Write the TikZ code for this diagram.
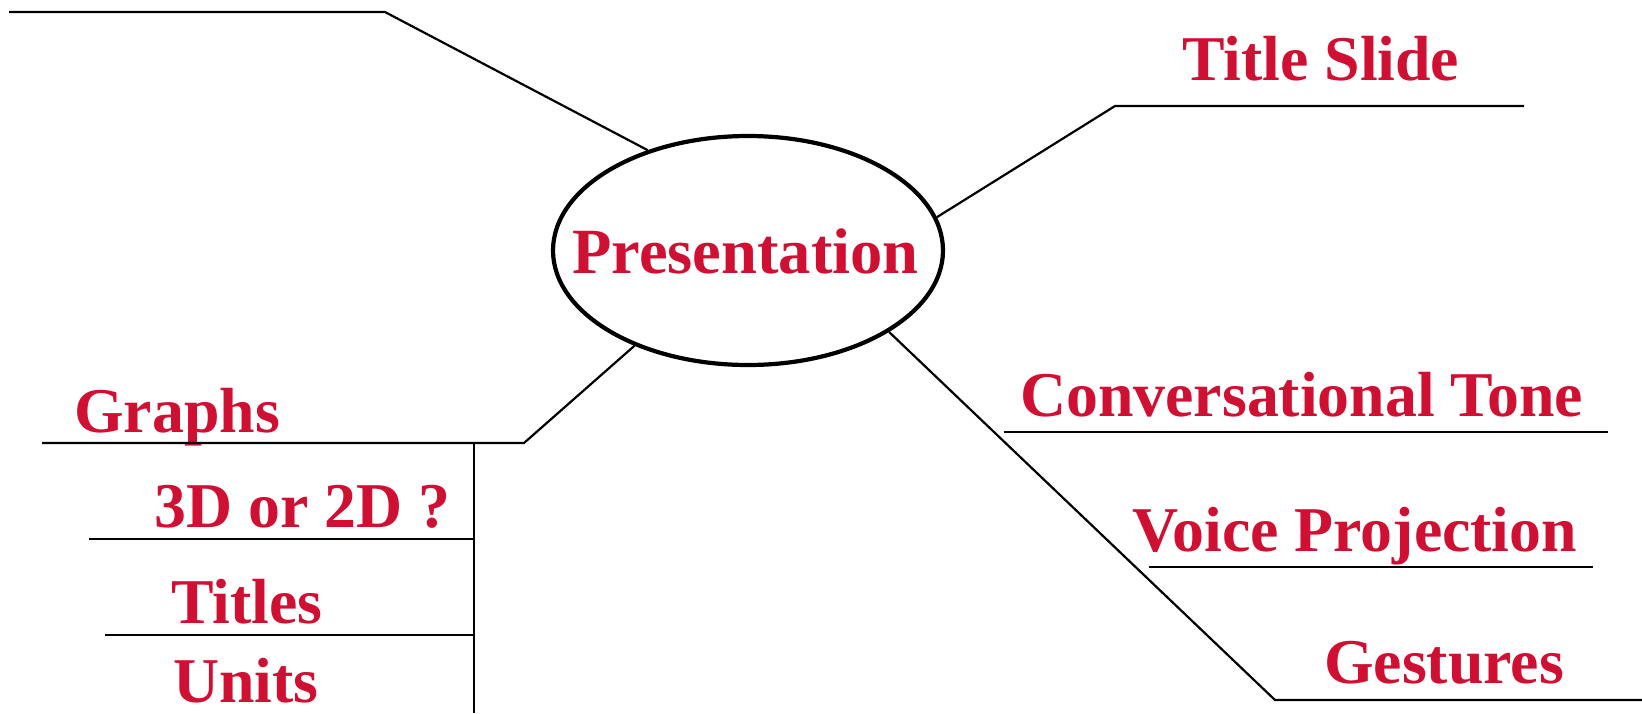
\documentclass[tikz,border=0pt]{standalone}
\usepackage{fontspec}
\setmainfont{Liberation Serif}
\usetikzlibrary{shapes.geometric}
\definecolor{myred}{RGB}{208,16,50}
\tikzset{
  lbl/.style={text=myred, font=\bfseries\fontsize{63.8}{70}\selectfont, inner sep=0pt, anchor=base west},
  ln/.style={draw=black, line width=2.2pt},
  oval/.style={draw=black, ellipse, line width=4.2pt, minimum width=390pt, minimum height=229pt, inner sep=0pt}
}
\begin{document}
\begin{tikzpicture}[x=1pt,y=-1pt]
\useasboundingbox (0,0) rectangle (1642,713);
\node[oval] (pres) at (748,250.5) {};
\node[lbl, font=\bfseries\fontsize{64.5}{70}\selectfont] (ptext) at (572,273) {Presentation};
\node[lbl] (tslide) at (1182,80) {Title Slide};
\node[lbl] (ctone) at (1020,416) {Conversational Tone};
\node[lbl] (vproj) at (1132,551) {Voice Projection};
\node[lbl] (gest) at (1324,683) {Gestures};
\node[lbl] (graphs) at (74,432) {Graphs};
\node[lbl] (tdd) at (154,527) {3D or 2D ?};
\node[lbl] (titles) at (171,623) {Titles};
\node[lbl] (units) at (173,702) {Units};
\coordinate (c0) at (9,12);
\coordinate (c1) at (385,12);
\coordinate (c2) at (1115,106);
\coordinate (c3) at (1524,106);
\coordinate (c4) at (1275,700);
\coordinate (c5) at (1642,700);
\coordinate (c6) at (524,443);
\coordinate (c7) at (42,443);
\coordinate (c8) at (474,443);
\coordinate (c9) at (474,713);
\coordinate (c10) at (89,539);
\coordinate (c11) at (474,539);
\coordinate (c12) at (105,635);
\coordinate (c13) at (474,635);
\coordinate (c14) at (1004,432);
\coordinate (c15) at (1608,432);
\coordinate (c16) at (1149,567);
\coordinate (c17) at (1593,567);
\draw[ln] (pres.135.9) -- (c1) -- (c0);
\draw[ln] (pres.10.8) -- (c2) -- (c3);
\draw[ln] (pres.330.9) -- (c4) -- (c5);
\draw[ln] (pres.220.1) -- (c6) -- (c7);
\draw[ln] (c8) -- (c9);
\draw[ln] (c10) -- (c11);
\draw[ln] (c12) -- (c13);
\draw[ln] (c14) -- (c15);
\draw[ln] (c16) -- (c17);
\end{tikzpicture}
\end{document}
